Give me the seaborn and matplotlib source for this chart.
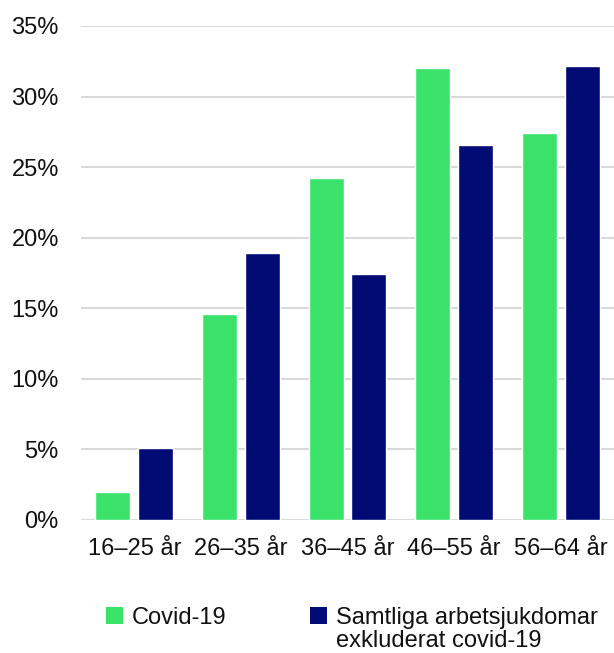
import matplotlib
matplotlib.use('Agg')
import matplotlib.pyplot as plt
import seaborn as sns
import pandas as pd
from matplotlib.ticker import PercentFormatter
from matplotlib.patches import Patch

age_groups = ['16–25 år', '26–35 år', '36–45 år', '46–55 år', '56–64 år']
covid = [2.0, 14.6, 24.2, 32.0, 27.4]
other = [5.1, 18.9, 17.4, 26.6, 32.2]
series_names = ['Covid-19', 'Samtliga arbetsjukdomar']
second_line = 'exkluderat covid-19'
colors = ['#3AE26A', '#000B74']

df = pd.DataFrame({
    'age': age_groups * 2,
    'value': covid + other,
    'series': [series_names[0]] * 5 + [series_names[1]] * 5,
})

sns.set_style('white')
plt.rcParams['font.family'] = ['Liberation Sans', 'DejaVu Sans']

W, H = 614, 653
fig = plt.figure(figsize=(W / 100, H / 100), dpi=100)
ax = fig.add_axes([81 / W, 1 - 520 / H, 533 / W, 494 / H])

sns.barplot(data=df, x='age', y='value', hue='series', palette=colors,
            width=0.8, gap=0.18, saturation=1, legend=False, ax=ax)

ax.set_ylim(0, 35)
ax.set_yticks(range(0, 36, 5))
ax.yaxis.set_major_formatter(PercentFormatter(decimals=0))
ax.grid(axis='y', color='#d9d9d9', linewidth=1.5)
ax.set_axisbelow(True)
for s in ax.spines.values():
    s.set_visible(False)
ax.tick_params(axis='both', length=0, labelsize=17, colors='#111111')
ax.tick_params(axis='x', pad=13)
ax.tick_params(axis='y', pad=16)
ax.set_xlabel('')
ax.set_ylabel('')
ax.set_xlim(-0.5, 4.5)

handles = [Patch(facecolor=c, edgecolor='none') for c in colors]
leg = fig.legend(handles, series_names, ncol=2, loc='center left',
                 bbox_to_anchor=(106 / W, 1 - 618 / H), frameon=False,
                 fontsize=17, handlelength=0.7, handleheight=0.7,
                 handletextpad=0.4, columnspacing=3.55, borderaxespad=0,
                 borderpad=0)
for t in leg.get_texts():
    t.set_color('#111111')

# second line of the navy label, left-aligned under the first
fig.canvas.draw()
bb = leg.get_texts()[1].get_window_extent()
fig.text(bb.x0 / W, (bb.y0 - 23) / H, second_line, fontsize=17,
         color='#111111', ha='left', va='bottom')

fig.savefig('out.png', dpi=100)
